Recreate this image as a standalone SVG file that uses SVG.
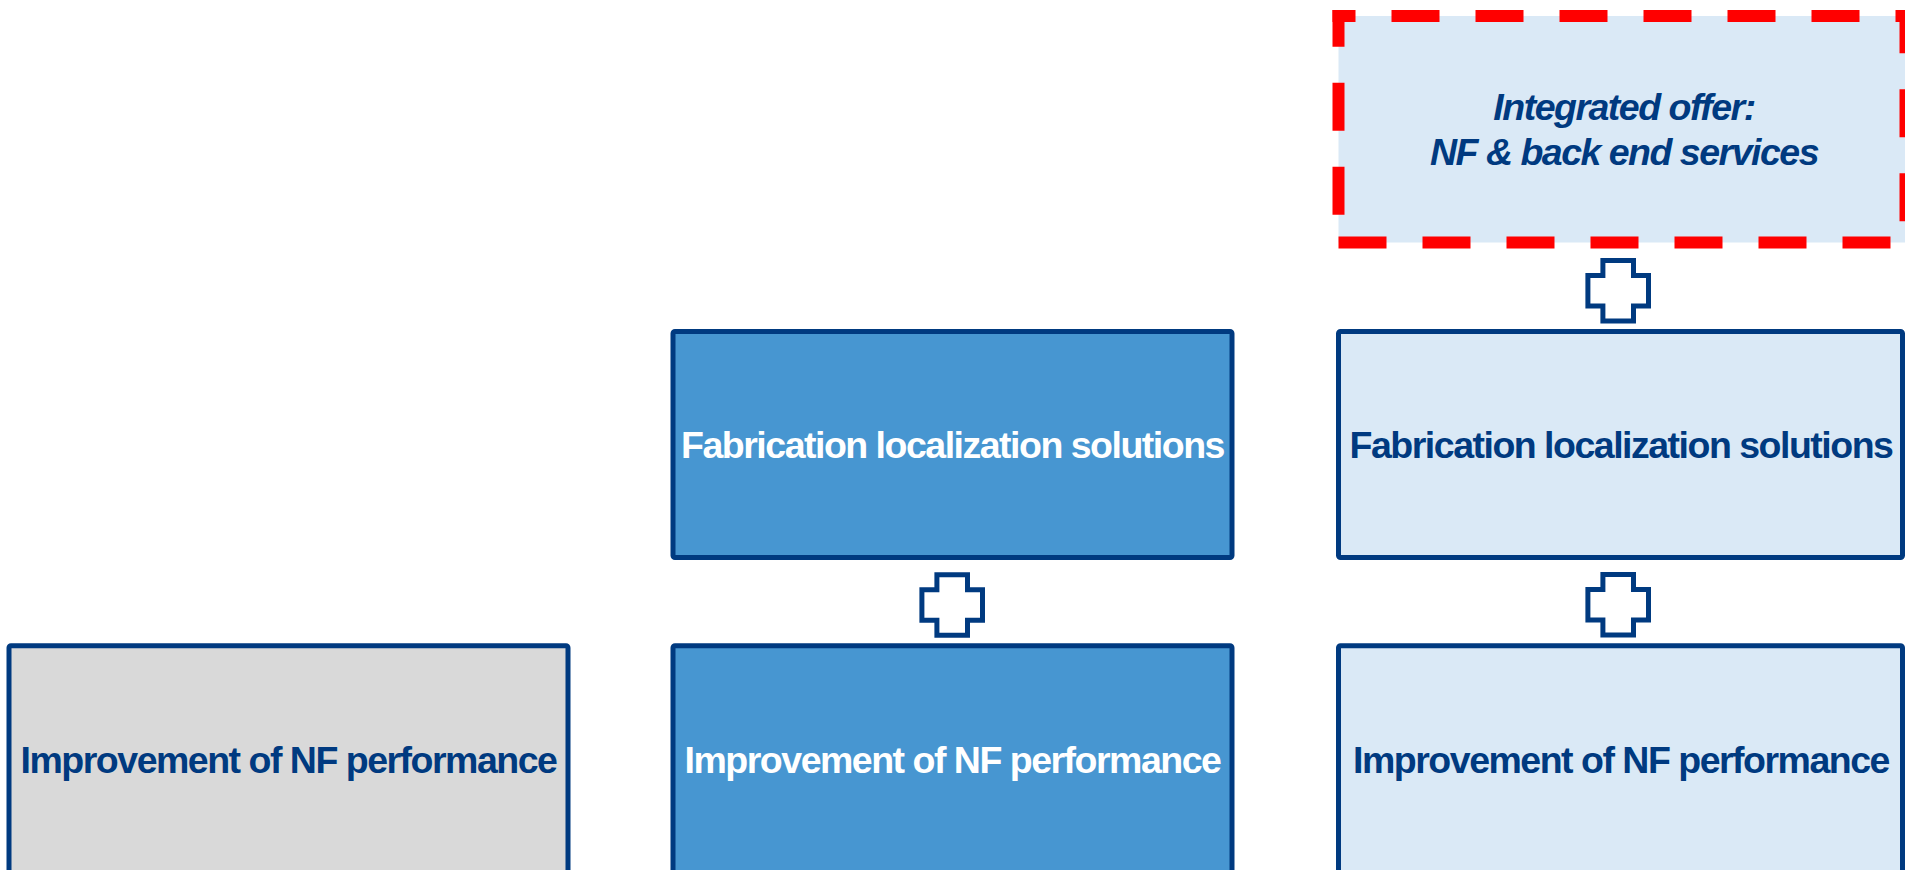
<svg xmlns="http://www.w3.org/2000/svg" width="1905" height="870" viewBox="0 0 1905 870">
  <style>
    .box { stroke: #003A80; stroke-width: 5; }
    .gray { fill: #D9D9D9; }
    .mid { fill: #4796D1; }
    .light { fill: #DAE9F6; }
    .lbl { font-family: "Liberation Sans", Arial, sans-serif; font-weight: bold; font-size: 37.5px; letter-spacing: -1.5px; text-anchor: middle; }
    .dark { fill: #003A80; }
    .white { fill: #FFFFFF; }
    .plus { fill: #FFFFFF; stroke: #003A80; stroke-width: 5; }
    .dash { fill: none; stroke: #FF0000; stroke-width: 12; stroke-dasharray: 48 36; stroke-linecap: butt; }
  </style>
  <defs>
    <path id="plusShape" d="M -15.3 -30.3 H 15.3 V -15.3 H 30.3 V 15.3 H 15.3 V 30.3 H -15.3 V 15.3 H -30.3 V -15.3 H -15.3 Z"/>
  </defs>
  <rect width="1905" height="870" fill="#FFFFFF"/>

  <g id="integrated-offer">
    <rect x="1338.5" y="16" width="567" height="226.5" fill="#DAE9F6"/>
    <line class="dash" x1="1332.5" y1="16" x2="1911.5" y2="16" stroke-dashoffset="25"/>
    <line class="dash" x1="1338.5" y1="10" x2="1338.5" y2="248.5" stroke-dashoffset="11.3"/>
    <line class="dash" x1="1338.5" y1="242.5" x2="1911.5" y2="242.5"/>
    <line class="dash" x1="1905.5" y1="10" x2="1905.5" y2="248.5" stroke-dashoffset="4.7"/>
    <text class="lbl dark" font-style="italic" x="1624" y="120">Integrated offer:</text>
    <text class="lbl dark" font-style="italic" x="1624" y="165">NF &amp; back end services</text>
  </g>

  <g id="fab-mid">
    <rect class="box mid" x="673" y="331.5" width="559" height="226" rx="2"/>
    <text class="lbl white" x="952.5" y="458">Fabrication localization solutions</text>
  </g>

  <g id="fab-right">
    <rect class="box light" x="1338.5" y="331.5" width="564" height="226" rx="2"/>
    <text class="lbl dark" x="1621" y="458">Fabrication localization solutions</text>
  </g>

  <g id="nf-gray">
    <rect class="box gray" x="9" y="645.8" width="559" height="232" rx="2"/>
    <text class="lbl dark" x="288.5" y="772.5">Improvement of NF performance</text>
  </g>

  <g id="nf-mid">
    <rect class="box mid" x="673" y="645.8" width="559" height="232" rx="2"/>
    <text class="lbl white" x="952.5" y="772.5">Improvement of NF performance</text>
  </g>

  <g id="nf-right">
    <rect class="box light" x="1338.5" y="645.8" width="564" height="232" rx="2"/>
    <text class="lbl dark" x="1621" y="772.5">Improvement of NF performance</text>
  </g>

  <g id="connectors">
    <use href="#plusShape" class="plus" transform="translate(1618.2 290.8)"/>
    <use href="#plusShape" class="plus" transform="translate(952.2 605)"/>
    <use href="#plusShape" class="plus" transform="translate(1618.2 604.8)"/>
  </g>
</svg>
